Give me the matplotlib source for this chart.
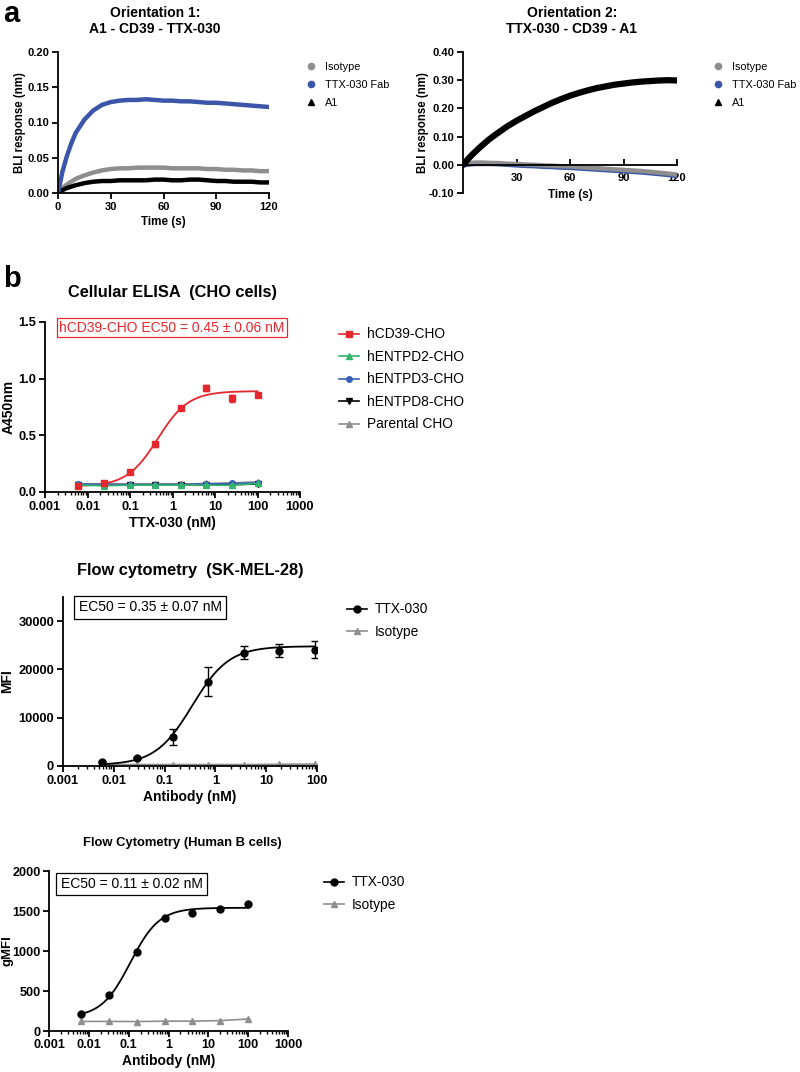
import matplotlib
matplotlib.use("Agg")
import matplotlib.pyplot as plt
from matplotlib.lines import Line2D
from matplotlib.ticker import FuncFormatter, NullFormatter
import numpy as np

plt.rcParams['font.family'] = ['Liberation Sans', 'DejaVu Sans']

# ---- panel a: BLI sensorgrams (values read every few seconds) ----
time_s = [0, 2.5, 5, 7.5, 10, 15, 20, 25, 30, 35, 40, 45, 50, 55, 60,
          65, 70, 75, 80, 85, 90, 95, 100, 105, 110, 115, 120]

o1_isotype = [0.000, 0.007, 0.012, 0.016, 0.020, 0.025, 0.029, 0.032, 0.034, 0.035, 0.035, 0.036, 0.036, 0.036,
              0.036, 0.035, 0.035, 0.035, 0.035, 0.034, 0.034, 0.033, 0.033, 0.032, 0.032, 0.031, 0.031]
o1_fab = [0.000, 0.030, 0.052, 0.070, 0.085, 0.104, 0.117, 0.125, 0.129, 0.131, 0.132, 0.132, 0.133, 0.132,
          0.131, 0.131, 0.130, 0.130, 0.129, 0.128, 0.128, 0.127, 0.126, 0.125, 0.124, 0.123, 0.122]
o1_a1 = [0.000, 0.004, 0.007, 0.009, 0.011, 0.014, 0.016, 0.017, 0.017, 0.018, 0.018, 0.018, 0.018, 0.019,
         0.019, 0.018, 0.018, 0.019, 0.019, 0.018, 0.017, 0.017, 0.016, 0.016, 0.016, 0.015, 0.015]

o2_isotype = [0.004, 0.006, 0.007, 0.008, 0.008, 0.007, 0.006, 0.004, 0.003, 0.001, 0.000, -0.002, -0.003, -0.005,
              -0.006, -0.008, -0.010, -0.012, -0.014, -0.016, -0.018, -0.020, -0.022, -0.025, -0.028, -0.031, -0.035]
o2_fab = [-0.002, 0.000, 0.002, 0.003, 0.003, 0.003, 0.002, 0.000, -0.002, -0.004, -0.005, -0.007, -0.008, -0.010,
          -0.011, -0.013, -0.015, -0.017, -0.019, -0.021, -0.023, -0.025, -0.027, -0.030, -0.033, -0.036, -0.040]
o2_a1 = [0.000, 0.018, 0.035, 0.050, 0.065, 0.092, 0.115, 0.137, 0.156, 0.173, 0.190, 0.205, 0.220, 0.233,
         0.245, 0.255, 0.264, 0.272, 0.278, 0.284, 0.288, 0.292, 0.295, 0.297, 0.299, 0.300, 0.299]

# ---- panel b1: cellular ELISA ----
elisa_conc = [0.0061, 0.0244, 0.0977, 0.39, 1.56, 6.25, 25, 100]
elisa_cd39 = [0.05, 0.08, 0.175, 0.42, 0.74, 0.915, 0.825, 0.855]
elisa_cd39_err = [0.01, 0.01, 0.015, 0.02, 0.015, 0.025, 0.03, 0.015]
elisa_entpd2 = [0.06, 0.055, 0.06, 0.06, 0.06, 0.06, 0.06, 0.075]
elisa_entpd3 = [0.07, 0.065, 0.065, 0.065, 0.065, 0.07, 0.075, 0.08]
elisa_entpd8 = [0.065, 0.065, 0.065, 0.065, 0.065, 0.065, 0.065, 0.07]
elisa_parental = [0.07, 0.07, 0.07, 0.07, 0.07, 0.075, 0.08, 0.09]
elisa_fit = dict(bottom=0.05, top=0.89, ec50=0.45, hill=1.2)

# ---- panel b2: flow cytometry SK-MEL-28 ----
skmel_conc = [0.00576, 0.0288, 0.144, 0.72, 3.6, 18, 90]
skmel_ttx = [800, 1700, 6000, 17400, 23500, 23900, 24100]
skmel_ttx_err = [150, 250, 1700, 3000, 1300, 1300, 1700]
skmel_iso = [300, 300, 300, 300, 300, 350, 400]
skmel_fit = dict(bottom=200, top=24800, ec50=0.35, hill=1.2)

# ---- panel b3: flow cytometry human B cells ----
bcell_conc = [0.0064, 0.032, 0.16, 0.8, 4, 20, 100]
bcell_ttx = [209, 455, 990, 1407, 1470, 1520, 1583]
bcell_iso = [120, 120, 118, 123, 123, 130, 150]
bcell_fit = dict(bottom=170, top=1540, ec50=0.11, hill=1.2)

W, H = 800, 1072
fig = plt.figure(figsize=(W / 100, H / 100), dpi=100)


def box(x0, y0, x1, y1):
    # pixel box (top-left origin) -> figure fraction rect
    return [x0 / W, 1 - y1 / H, (x1 - x0) / W, (y1 - y0) / H]


def four_pl(x, bottom, top, ec50, hill):
    return bottom + (top - bottom) / (1 + (ec50 / x) ** hill)


def style(ax, tick_size, pad=2.5):
    for s in ['top', 'right']:
        ax.spines[s].set_visible(False)
    for s in ['left', 'bottom']:
        ax.spines[s].set_linewidth(1.3)
    ax.tick_params(width=1.3, length=4, labelsize=tick_size, pad=pad)
    for lab in ax.get_xticklabels() + ax.get_yticklabels():
        lab.set_fontweight('bold')


def log_axis(ax, lo_exp, hi_exp):
    ax.set_xscale('log')
    ax.set_xlim(10.0 ** lo_exp, 10.0 ** hi_exp)
    decades = [10.0 ** e for e in range(lo_exp, hi_exp + 1)]
    minors = [m * d for d in decades[:-1] for m in range(2, 10)]
    ax.set_xticks(decades)
    ax.set_xticks(minors, minor=True)
    ax.xaxis.set_minor_formatter(NullFormatter())
    ax.xaxis.set_major_formatter(FuncFormatter(lambda v, p: '{:g}'.format(v)))
    ax.tick_params(which='minor', length=2.5, width=1.0)


def ylabel_at(ax, text, right_px, size):
    # right edge of the rotated label placed at a pixel column
    ax.set_ylabel(text, fontsize=size, fontweight='bold')
    x0 = ax.get_position().x0 * W
    w = ax.get_position().width * W
    ax.yaxis.set_label_coords((right_px - x0) / w, 0.5)


blue = '#3b55a8'
grey = '#8e8e8e'
red = '#e5282d'

# ================= panel a left =================
ax1 = fig.add_axes(box(58, 52, 269, 193))
ax1.plot(time_s, o1_isotype, color=grey, lw=3.2, solid_capstyle='round')
ax1.plot(time_s, o1_a1, color='black', lw=3.2, solid_capstyle='round')
ax1.plot(time_s, o1_fab, color=blue, lw=3.2, solid_capstyle='round')
ax1.set_xlim(0, 120)
ax1.set_ylim(0, 0.20)
ax1.set_xticks([0, 30, 60, 90, 120])
ax1.set_yticks([0, 0.05, 0.10, 0.15, 0.20])
ax1.yaxis.set_major_formatter(FuncFormatter(lambda v, p: '{:.2f}'.format(v)))
style(ax1, 8)
ax1.set_xlabel('Time (s)', fontsize=8.4, fontweight='bold', labelpad=3)
ylabel_at(ax1, 'BLI response (nm)', 26, 8.3)
fig.text(155 / W, 1 - 21 / H, 'Orientation 1:\nA1 - CD39 - TTX-030', ha='center', va='center',
         fontsize=10, fontweight='bold', linespacing=1.15)

bli_handles = [Line2D([], [], ls='none', marker='o', ms=4.5, color=grey),
               Line2D([], [], ls='none', marker='o', ms=4.5, color=blue),
               Line2D([], [], ls='none', marker='^', ms=4.5, color='black')]
bli_labels = ['Isotype', 'TTX-030 Fab', 'A1']
ax1.legend(bli_handles, bli_labels, loc='upper left', bbox_to_anchor=(296 / W, 1 - 52 / H),
           bbox_transform=fig.transFigure, frameon=False, fontsize=7.8, handlelength=1.0,
           handletextpad=0.8, labelspacing=0.75)

# ================= panel a right =================
ax2 = fig.add_axes(box(463, 52, 677, 193))
ax2.plot(time_s, o2_fab, color=blue, lw=3.2, solid_capstyle='round')
ax2.plot(time_s, o2_isotype, color=grey, lw=3.2, solid_capstyle='round')
ax2.plot(time_s, o2_a1, color='black', lw=4.5, solid_capstyle='round')
ax2.set_xlim(0, 120)
ax2.set_ylim(-0.10, 0.40)
ax2.spines['bottom'].set_position(('data', 0))
ax2.set_xticks([30, 60, 90, 120])
ax2.set_yticks([-0.10, 0, 0.10, 0.20, 0.30, 0.40])
ax2.yaxis.set_major_formatter(FuncFormatter(lambda v, p: '{:.2f}'.format(v)))
style(ax2, 8)
ax2.tick_params(axis='x', direction='in', pad=6)
ax2.set_xlabel('Time (s)', fontsize=8.4, fontweight='bold')
ax2.xaxis.set_label_coords(0.5, 0.03)
ylabel_at(ax2, 'BLI response (nm)', 429, 8.3)
fig.text(572 / W, 1 - 21 / H, 'Orientation 2:\nTTX-030 - CD39 - A1', ha='center', va='center',
         fontsize=10, fontweight='bold', linespacing=1.15)
ax2.legend(bli_handles, bli_labels, loc='upper left', bbox_to_anchor=(703 / W, 1 - 52 / H),
           bbox_transform=fig.transFigure, frameon=False, fontsize=7.8, handlelength=1.0,
           handletextpad=0.8, labelspacing=0.75)

fig.text(3 / W, 1 - 21.5 / H, 'a', fontsize=21, fontweight='bold', va='baseline', ha='left')
fig.text(3 / W, 1 - 287 / H, 'b', fontsize=21, fontweight='bold', va='baseline', ha='left')

# ================= panel b1: ELISA =================
ax3 = fig.add_axes(box(45, 322, 300, 492))
log_axis(ax3, -3, 3)
xs = np.logspace(np.log10(elisa_conc[0]), np.log10(elisa_conc[-1]), 200)
ax3.plot(xs, four_pl(xs, **elisa_fit), color=red, lw=1.3)
ax3.errorbar(elisa_conc, elisa_cd39, yerr=elisa_cd39_err, fmt='s', color=red, ms=4.5,
             capsize=2.5, elinewidth=1.0)
ax3.plot(elisa_conc, elisa_parental, color=grey, marker='^', ms=4, lw=1.2)
ax3.plot(elisa_conc, elisa_entpd8, color='black', marker='v', ms=4, lw=1.2)
ax3.plot(elisa_conc, elisa_entpd3, color='#3a5fb8', marker='o', ms=4, lw=1.2)
ax3.plot(elisa_conc, elisa_entpd2, color='#34b56e', marker='^', ms=4, lw=1.2)
ax3.set_ylim(0, 1.5)
ax3.set_yticks([0, 0.5, 1.0, 1.5])
ax3.yaxis.set_major_formatter(FuncFormatter(lambda v, p: '{:.1f}'.format(v)))
style(ax3, 9.3)
ax3.set_xlabel('TTX-030 (nM)', fontsize=10, fontweight='bold', labelpad=2)
ylabel_at(ax3, 'A450nm', 16, 10)
fig.text(172 / W, 1 - 293 / H, 'Cellular ELISA  (CHO cells)', ha='center', va='center',
         fontsize=11.8, fontweight='bold')
ax3.text(0.498, 0.965, 'hCD39-CHO EC50 = 0.45 \u00b1 0.06 nM', transform=ax3.transAxes,
         ha='center', va='center', fontsize=10, color=red, clip_on=False,
         bbox=dict(boxstyle='square,pad=0.18', fc='white', ec=red, lw=0.9))
elisa_handles = [Line2D([], [], color=red, marker='s', ms=4.5, lw=1.2),
                 Line2D([], [], color='#34b56e', marker='^', ms=4, lw=1.2),
                 Line2D([], [], color='#3a5fb8', marker='o', ms=4, lw=1.2),
                 Line2D([], [], color='black', marker='v', ms=4, lw=1.2),
                 Line2D([], [], color=grey, marker='^', ms=4, lw=1.2)]
ax3.legend(elisa_handles, ['hCD39-CHO', 'hENTPD2-CHO', 'hENTPD3-CHO', 'hENTPD8-CHO', 'Parental CHO'],
           loc='upper left', bbox_to_anchor=(327 / W, 1 - 315 / H), bbox_transform=fig.transFigure,
           frameon=False, fontsize=9.9, handlelength=1.4, handletextpad=0.6, labelspacing=0.62)

# ================= panel b2: SK-MEL-28 =================
ax4 = fig.add_axes(box(63, 597, 317, 766))
log_axis(ax4, -3, 2)
xs = np.logspace(np.log10(skmel_conc[0]), np.log10(skmel_conc[-1]), 200)
ax4.plot(skmel_conc, skmel_iso, color=grey, marker='^', ms=4, lw=1.2)
ax4.plot(xs, four_pl(xs, **skmel_fit), color='black', lw=1.3)
ax4.errorbar(skmel_conc, skmel_ttx, yerr=skmel_ttx_err, fmt='o', color='black', ms=5,
             capsize=3, elinewidth=1.0)
ax4.set_ylim(0, 35000)
ax4.set_yticks([0, 10000, 20000, 30000])
style(ax4, 9.3)
ax4.set_xlabel('Antibody (nM)', fontsize=10, fontweight='bold', labelpad=2)
ylabel_at(ax4, 'MFI', 14, 10)
fig.text(190 / W, 1 - 571 / H, 'Flow cytometry  (SK-MEL-28)', ha='center', va='center',
         fontsize=11.8, fontweight='bold')
ax4.text(0.343, 0.938, 'EC50 = 0.35 \u00b1 0.07 nM', transform=ax4.transAxes,
         ha='center', va='center', fontsize=10, clip_on=False,
         bbox=dict(boxstyle='square,pad=0.3', fc='white', ec='black', lw=0.9))
flow_handles = [Line2D([], [], color='black', marker='o', ms=5, lw=1.2),
                Line2D([], [], color=grey, marker='^', ms=4, lw=1.2)]
ax4.legend(flow_handles, ['TTX-030', 'Isotype'], loc='upper left',
           bbox_to_anchor=(335 / W, 1 - 590 / H), bbox_transform=fig.transFigure,
           frameon=False, fontsize=9.9, handlelength=1.4, handletextpad=0.6, labelspacing=0.62)

# ================= panel b3: human B cells =================
ax5 = fig.add_axes(box(49, 871, 288, 1031))
log_axis(ax5, -3, 3)
xs = np.logspace(np.log10(bcell_conc[0]), np.log10(bcell_conc[-1]), 200)
ax5.plot(bcell_conc, bcell_iso, color=grey, marker='^', ms=4, lw=1.2)
ax5.plot(xs, four_pl(xs, **bcell_fit), color='black', lw=1.3)
ax5.plot(bcell_conc, bcell_ttx, 'o', color='black', ms=5)
ax5.set_ylim(0, 2000)
ax5.set_yticks([0, 500, 1000, 1500, 2000])
style(ax5, 9.1, pad=2)
ax5.set_xlabel('Antibody (nM)', fontsize=10, fontweight='bold', labelpad=2)
ylabel_at(ax5, 'gMFI', 13.5, 9.5)
fig.text(182 / W, 1 - 843 / H, 'Flow Cytometry (Human B cells)', ha='center', va='center',
         fontsize=9.4, fontweight='bold')
ax5.text(0.345, 0.919, 'EC50 = 0.11 \u00b1 0.02 nM', transform=ax5.transAxes,
         ha='center', va='center', fontsize=10, clip_on=False,
         bbox=dict(boxstyle='square,pad=0.3', fc='white', ec='black', lw=0.9))
ax5.legend(flow_handles, ['TTX-030', 'Isotype'], loc='upper left',
           bbox_to_anchor=(312 / W, 1 - 863 / H), bbox_transform=fig.transFigure,
           frameon=False, fontsize=9.9, handlelength=1.4, handletextpad=0.6, labelspacing=0.62)

fig.savefig('out.png', dpi=100)
